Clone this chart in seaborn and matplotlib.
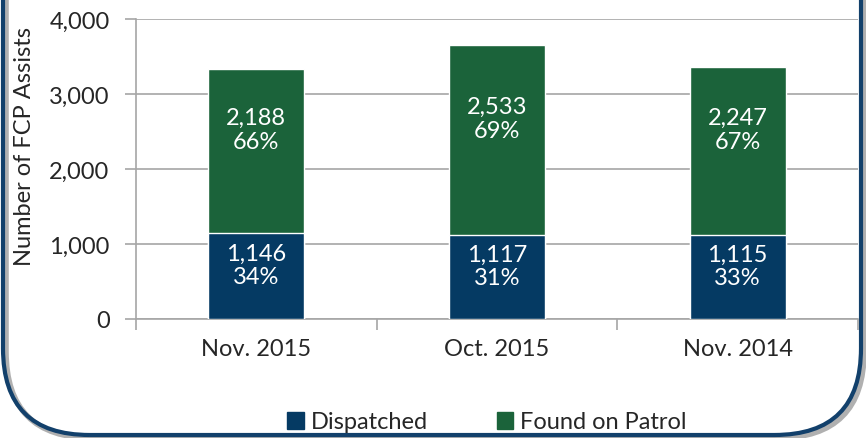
import matplotlib.pyplot as plt
import pandas as pd
import seaborn as sns
from matplotlib.patches import FancyBboxPatch, Patch
from matplotlib.ticker import FuncFormatter, FixedLocator

# data
months = ['Nov. 2015', 'Oct. 2015', 'Nov. 2014']
dispatched = [1146, 1117, 1115]
found_on_patrol = [2188, 2533, 2247]
pct_dispatched = ['34%', '31%', '33%']
pct_patrol = ['66%', '69%', '67%']

blue = '#053A63'
green = '#1B633A'

sns.set_style('white')
plt.rcParams['font.family'] = ['Lato', 'DejaVu Sans']

df = pd.DataFrame({'month': months, 'Dispatched': dispatched, 'Found on Patrol': found_on_patrol})
df['total'] = df['Dispatched'] + df['Found on Patrol']

fig = plt.figure(figsize=(8.66, 4.39), dpi=100)
ax = fig.add_axes([136 / 866, 1 - 320 / 439, 722 / 866, 300 / 439])

# stacked: draw total first, then dispatched on top
sns.barplot(data=df, x='month', y='total', color=green, width=0.4, saturation=1, ax=ax, zorder=3)
sns.barplot(data=df, x='month', y='Dispatched', color=blue, width=0.4, saturation=1, ax=ax, zorder=3)

for i in range(len(months)):
    ax.text(i, dispatched[i] * 0.5 + 150, f'{dispatched[i]:,}\n{pct_dispatched[i]}', color='white',
            ha='center', va='center', fontsize=17, linespacing=1.15, zorder=4)
    ax.text(i, dispatched[i] + found_on_patrol[i] * 0.5 + 290, f'{found_on_patrol[i]:,}\n{pct_patrol[i]}',
            color='white', ha='center', va='center', fontsize=17, linespacing=1.15, zorder=4)

ax.set_ylim(0, 4000)
ax.set_xlim(-0.5, 2.5)
ax.set_yticks([0, 1000, 2000, 3000, 4000])
ax.yaxis.set_major_formatter(FuncFormatter(lambda v, p: f'{int(v):,}'))
ax.grid(axis='y', color='#A6A6A6', lw=1.2, zorder=0)
ax.set_axisbelow(True)
for s in ['top', 'right']:
    ax.spines[s].set_visible(False)
for s in ['left', 'bottom']:
    ax.spines[s].set_color('#A6A6A6')
    ax.spines[s].set_linewidth(1.2)
ax.tick_params(axis='y', length=8, width=1.2, color='#A6A6A6', labelsize=17, pad=11, left=True)
ax.tick_params(axis='x', length=0, labelsize=17, pad=14)
ax.xaxis.set_minor_locator(FixedLocator([-0.5, 0.5, 1.5, 2.5]))
ax.tick_params(axis='x', which='minor', length=8, width=1.2, color='#A6A6A6', bottom=True)
ax.set_xlabel('')
ax.set_ylabel('Number of FCP Assists', fontsize=17, va='center')
ax.yaxis.set_label_coords(-111 / 722, 0.577)

handles = [Patch(color=blue, label='Dispatched'), Patch(color=green, label='Found on Patrol')]
fig.legend(handles=handles, loc='center', bbox_to_anchor=(487 / 866, 1 - 423 / 439), ncol=2,
           frameon=False, fontsize=17, handlelength=0.7, handleheight=0.7, handletextpad=0.3,
           columnspacing=2.9)

# rounded border with a soft shadow
shadow = FancyBboxPatch((6 / 866, 1 - 439 / 439), 858 / 866, 1.5,
                        boxstyle='round,pad=0,rounding_size=0.1', transform=fig.transFigure,
                        fill=False, ec='#B0B0B0', lw=4, mutation_aspect=866 / 439, zorder=-2)
border = FancyBboxPatch((3 / 866, 1 - 436 / 439), 858 / 866, 1.5,
                        boxstyle='round,pad=0,rounding_size=0.1', transform=fig.transFigure,
                        fill=False, ec='#12406B', lw=3, mutation_aspect=866 / 439, zorder=-1)
fig.patches.append(shadow)
fig.patches.append(border)

fig.savefig('out.png', dpi=100)
